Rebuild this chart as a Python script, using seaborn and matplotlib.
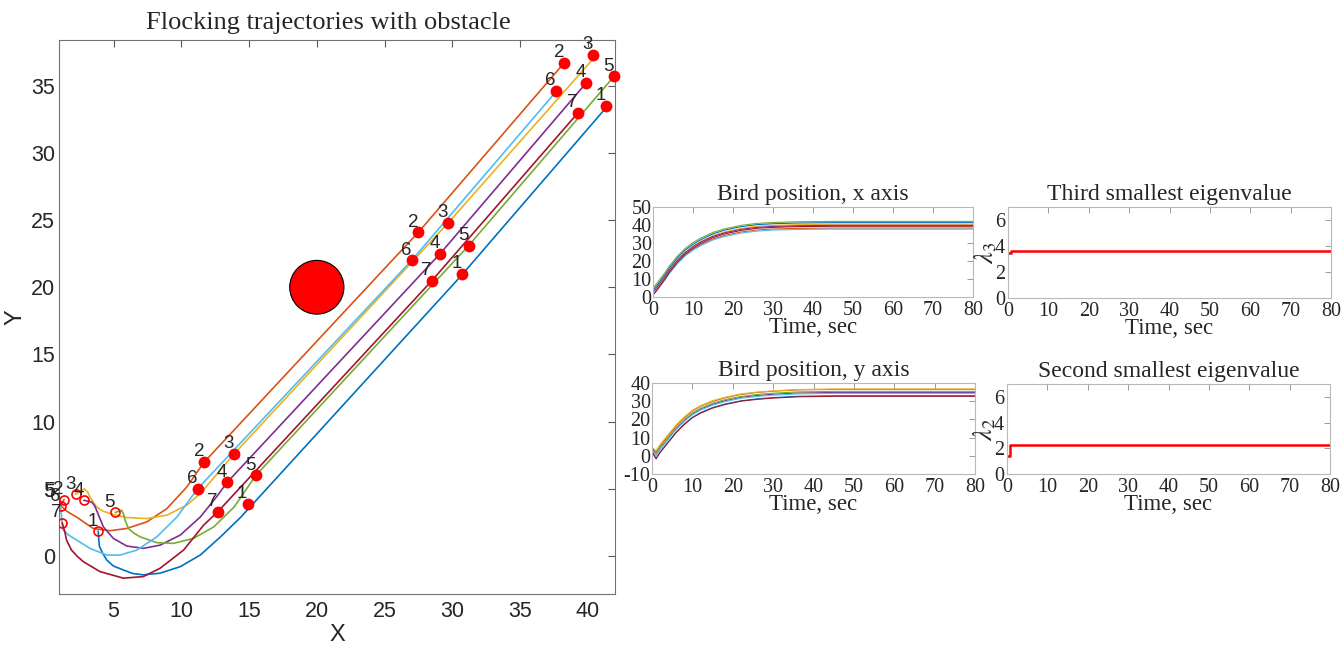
import numpy as np
import pandas as pd
import matplotlib
matplotlib.use('Agg')
import matplotlib.pyplot as plt
import seaborn as sns
from matplotlib.patches import Circle

# Bird names and colours (MATLAB default line order)
birds = ['1', '2', '3', '4', '5', '6', '7']
bird_colors = ['#0072BD', '#D95319', '#EDB120', '#7E2F8E', '#77AC30', '#4DBEEE', '#A2142F']

# Trajectories in the plane
path1_x = [3.87, 3.95, 4.2, 4.5, 5.0, 5.73, 6.4, 7.2, 8.44, 9.93, 11.4, 12.9, 14.4, 15.85, 30.6, 41.2]
path1_y = [1.85, 0.74, 0.2, -0.3, -0.75, -1.04, -1.3, -1.4, -1.28, -0.79, 0.07, 1.43, 2.9, 4.5, 20.8, 33.2]
path2_x = [1.35, 1.1, 1.6, 2.27, 3.5, 4.74, 5.98, 7.46, 8.94, 10.4, 11.7, 27.5, 38.25]
path2_y = [4.2, 3.75, 3.3, 2.9, 2.05, 1.88, 2.05, 2.54, 3.53, 5.13, 7.0, 24.1, 36.7]
path3_x = [2.2, 2.85, 3.1, 3.26, 3.75, 4.2, 4.74, 5.98, 7.46, 8.94, 10.4, 11.4, 13.9, 29.7, 40.3]
path3_y = [4.6, 5.0, 4.75, 4.39, 3.65, 3.35, 3.16, 2.86, 2.79, 3.04, 3.78, 4.64, 7.6, 24.8, 36.9]
path4_x = [2.81, 3.38, 3.6, 3.75, 4.25, 4.99, 5.98, 7.21, 8.44, 9.93, 11.4, 12.6, 13.4, 29.1, 39.7]
path4_y = [4.15, 4.02, 3.75, 3.4, 2.17, 1.31, 0.74, 0.57, 0.81, 1.56, 2.9, 4.4, 5.5, 22.5, 35.0]
path5_x = [5.13, 5.6, 5.75, 5.85, 6.1, 6.5, 6.96, 8.2, 9.43, 10.9, 12.4, 13.9, 15.5, 31.2, 41.85]
path5_y = [3.24, 3.4, 3.1, 2.67, 2.05, 1.7, 1.43, 0.99, 0.94, 1.31, 2.17, 3.65, 6.0, 23.1, 35.6]
path6_x = [1.09, 1.2, 1.28, 1.7, 2.27, 3.26, 4.5, 5.48, 6.72, 8.2, 9.68, 11.2, 27.0, 37.6]
path6_y = [3.7, 2.6, 1.93, 1.55, 1.19, 0.57, 0.07, 0.07, 0.44, 1.43, 2.9, 5.0, 22.0, 34.5]
path7_x = [1.21, 1.41, 1.53, 1.9, 2.3, 2.77, 4.0, 5.73, 7.2, 8.44, 10.17, 11.65, 12.7, 28.5, 39.2]
path7_y = [2.47, 1.8, 1.19, 0.44, 0.0, -0.42, -1.16, -1.65, -1.53, -0.91, 0.44, 2.3, 3.3, 20.5, 32.9]

# Start positions (open circles); the last "5" sits just outside the axes
start_x = [3.87, 1.35, 2.2, 2.81, 5.13, 1.09, 1.21, 0.65]
start_y = [1.85, 4.2, 4.6, 4.15, 3.24, 3.7, 2.47, 3.95]
start_labels = ['1', '2', '3', '4', '5', '6', '7', '5']

# Snapshots of the flock (filled dots)
snapA_x = [14.9, 11.7, 13.9, 13.4, 15.5, 11.2, 12.7]
snapA_y = [3.9, 7.0, 7.6, 5.5, 6.0, 5.0, 3.3]
snapB_x = [30.7, 27.5, 29.7, 29.1, 31.2, 27.0, 28.5]
snapB_y = [21.0, 24.1, 24.8, 22.5, 23.1, 22.0, 20.5]
snapC_x = [41.35, 38.25, 40.35, 39.85, 41.95, 37.65, 39.25]
snapC_y = [33.5, 36.7, 37.3, 35.2, 35.7, 34.6, 33.0]

# Obstacle
obstacle_center = (20, 20)
obstacle_radius = 2

# Position versus time
t_grid = [0, 1, 2, 3, 4, 6, 8, 10, 12, 15, 18, 22, 26, 30, 36, 45, 60, 80]
xpos_1 = [3.9, 6.5, 9.5, 12.5, 15.9, 21.5, 26.0, 29.3, 31.9, 35.1, 37.2, 39.1, 40.2, 40.7, 41.1, 41.3, 41.3, 41.3]
xpos_2 = [1.4, 3.9, 6.9, 9.9, 13.2, 18.7, 23.2, 26.5, 29.1, 32.2, 34.2, 36.1, 37.2, 37.8, 38.1, 38.3, 38.3, 38.3]
xpos_3 = [2.2, 4.9, 7.9, 11.0, 14.4, 20.2, 24.7, 28.2, 30.9, 34.1, 36.2, 38.1, 39.3, 39.8, 40.2, 40.4, 40.4, 40.4]
xpos_4 = [2.8, 5.4, 8.4, 11.3, 14.7, 20.2, 24.6, 28.0, 30.6, 33.7, 35.7, 37.6, 38.7, 39.2, 39.6, 39.8, 39.8, 39.8]
xpos_5 = [5.1, 7.7, 10.7, 13.6, 16.9, 22.5, 26.9, 30.2, 32.8, 35.9, 37.9, 39.8, 40.9, 41.4, 41.8, 42.0, 42.0, 42.0]
xpos_6 = [1.1, 3.7, 6.6, 9.5, 12.8, 18.3, 22.7, 26.0, 28.6, 31.7, 33.7, 35.5, 36.6, 37.2, 37.5, 37.7, 37.7, 37.7]
xpos_7 = [1.2, 3.9, 6.9, 10.0, 13.4, 19.1, 23.7, 27.1, 29.8, 33.0, 35.1, 37.0, 38.2, 38.7, 39.1, 39.3, 39.3, 39.3]
ypos_1 = [1.9, -1.4, 2.0, 4.8, 7.5, 13.0, 17.5, 21.1, 23.7, 26.5, 28.4, 30.2, 31.3, 32.0, 32.7, 33.0, 33.0, 33.0]
ypos_2 = [4.2, 1.9, 5.3, 8.1, 10.9, 16.4, 20.9, 24.6, 27.2, 29.9, 31.8, 33.7, 34.8, 35.5, 36.2, 36.5, 36.5, 36.5]
ypos_3 = [4.6, 2.8, 6.2, 8.9, 11.6, 17.0, 21.4, 25.0, 27.5, 30.3, 32.1, 34.0, 35.0, 35.7, 36.4, 36.7, 36.7, 36.7]
ypos_4 = [4.2, 0.6, 4.0, 6.7, 9.5, 15.0, 19.4, 23.0, 25.6, 28.3, 30.2, 32.1, 33.1, 33.8, 34.5, 34.8, 34.8, 34.8]
ypos_5 = [3.2, 0.9, 4.4, 7.1, 9.9, 15.4, 19.9, 23.5, 26.1, 28.9, 30.8, 32.6, 33.7, 34.4, 35.1, 35.4, 35.4, 35.4]
ypos_6 = [3.7, 0.1, 3.5, 6.2, 9.0, 14.5, 18.9, 22.5, 25.1, 27.8, 29.7, 31.6, 32.6, 33.3, 34.0, 34.3, 34.3, 34.3]
ypos_7 = [2.5, -1.7, 1.8, 4.5, 7.3, 12.8, 17.2, 20.9, 23.4, 26.2, 28.1, 30.0, 31.0, 31.7, 32.4, 32.7, 32.7, 32.7]

# Eigenvalues (step at the start)
t_eig = [0, 0.8, 80]
lambda3 = [3.44, 3.62, 3.62]
lambda2 = [1.38, 2.22, 2.22]

# Build long tables for seaborn
path_x = [path1_x, path2_x, path3_x, path4_x, path5_x, path6_x, path7_x]
path_y = [path1_y, path2_y, path3_y, path4_y, path5_y, path6_y, path7_y]
rows = []
for b in range(7):
    for xv, yv in zip(path_x[b], path_y[b]):
        rows.append((birds[b], xv, yv))
paths = pd.DataFrame(rows, columns=['bird', 'x', 'y'])

xpos = [xpos_1, xpos_2, xpos_3, xpos_4, xpos_5, xpos_6, xpos_7]
ypos = [ypos_1, ypos_2, ypos_3, ypos_4, ypos_5, ypos_6, ypos_7]
rows = []
for b in range(7):
    for tv, xv, yv in zip(t_grid, xpos[b], ypos[b]):
        rows.append((birds[b], tv, xv, yv))
ts = pd.DataFrame(rows, columns=['bird', 't', 'x', 'y'])

# Style
sns.set_theme(style='white')
plt.rcParams['font.family'] = ['Liberation Serif', 'DejaVu Serif']
plt.rcParams['mathtext.fontset'] = 'stix'
plt.rcParams['axes.unicode_minus'] = False

W, H = 1343, 647
fig = plt.figure(figsize=(W / 100, H / 100), dpi=100)


def rect(left, top, right, bottom):
    return [left / W, 1 - bottom / H, (right - left) / W, (bottom - top) / H]


# Main trajectory plot
ax = fig.add_axes(rect(59.3, 40, 615, 594.3))
sns.lineplot(data=paths, x='x', y='y', hue='bird', palette=bird_colors,
             estimator=None, sort=False, legend=False, lw=1.2, ax=ax)
ax.add_patch(Circle(obstacle_center, obstacle_radius, fc='red', ec='black', lw=0.8, zorder=4))
ax.plot(start_x, start_y, 'o', ms=6.5, mfc='none', mec='red', mew=1.2, zorder=5)
for sx, sy in [(snapA_x, snapA_y), (snapB_x, snapB_y), (snapC_x, snapC_y)]:
    ax.plot(sx, sy, 'o', ms=7.5, color='red', mec='red', zorder=6, clip_on=False)
    for i in range(7):
        ax.text(sx[i] - 0.4, sy[i] + 0.75, birds[i], fontsize=13.5,
                family='Liberation Sans', ha='center', va='center', zorder=7)
for i in range(len(start_x)):
    ax.text(start_x[i] - 0.4, start_y[i] + 0.75, start_labels[i], fontsize=13.5,
            family='Liberation Sans', ha='center', va='center', zorder=7)

ax.set_xlim(1.0, 42.0)
ax.set_ylim(-2.85, 38.4)
ax.set_xticks(range(5, 41, 5))
ax.set_yticks(range(0, 36, 5))
ax.tick_params(direction='in', top=True, right=True, length=5, width=0.8,
               color='0.35', labelsize=15.5, labelfontfamily='Liberation Sans')
ax.tick_params(axis='x', pad=5)
ax.tick_params(axis='y', pad=3)
for s in ax.spines.values():
    s.set_color('0.45')
    s.set_linewidth(0.8)
ax.set_xlabel('X', fontsize=17, family='Liberation Sans', va='center')
ax.set_ylabel('Y', fontsize=17, family='Liberation Sans', va='center')
ax.xaxis.set_label_coords(0.5, -0.074)
ax.yaxis.set_label_coords(-0.078, 0.5)
ax.set_title('Flocking trajectories with obstacle', fontsize=19, pad=8, x=0.484)


def small_axes(r, title):
    a = fig.add_axes(r)
    a.tick_params(direction='in', top=True, right=True, length=4, width=0.6,
                  color='0.55', labelsize=14.5)
    a.tick_params(axis='x', pad=3)
    a.tick_params(axis='y', pad=1)
    for s in a.spines.values():
        s.set_color('0.72')
        s.set_linewidth(0.8)
    a.set_title(title, fontsize=17, pad=5)
    a.set_xlim(0, 80)
    a.set_xticks(range(0, 81, 10))
    a.set_xlabel('Time, sec', fontsize=16.5, va='center')
    a.xaxis.set_label_coords(0.5, -0.335)
    return a


ax1 = small_axes(rect(653, 207, 973, 297), 'Bird position, x axis')
sns.lineplot(data=ts, x='t', y='x', hue='bird', palette=bird_colors,
             estimator=None, legend=False, lw=0.8, ax=ax1)
ax1.set_ylim(0, 50)
ax1.set_yticks(range(0, 51, 10))
ax1.set_xlabel('Time, sec')
ax1.set_ylabel('')

ax2 = small_axes(rect(652, 383, 975, 474), 'Bird position, y axis')
sns.lineplot(data=ts, x='t', y='y', hue='bird', palette=bird_colors,
             estimator=None, legend=False, lw=0.8, ax=ax2)
ax2.set_ylim(-10, 40)
ax2.set_yticks(range(-10, 41, 10))
ax2.set_xlabel('Time, sec')
ax2.set_ylabel('')

ax3 = small_axes(rect(1008, 207, 1331, 298), 'Third smallest eigenvalue')
sns.lineplot(x=t_eig, y=lambda3, color='red', lw=1.8, drawstyle='steps-post', ax=ax3)
ax3.set_ylim(0, 7)
ax3.set_yticks([0, 2, 4, 6])
ax3.tick_params(axis='y', pad=2)
ax3.set_xlabel('Time, sec')
ax3.set_ylabel(r'$\lambda_3$', fontsize=19, va='center')
ax3.yaxis.set_label_coords(-0.068, 0.5)

ax4 = small_axes(rect(1007, 384, 1330, 474), 'Second smallest eigenvalue')
sns.lineplot(x=t_eig, y=lambda2, color='red', lw=1.8, drawstyle='steps-post', ax=ax4)
ax4.set_ylim(0, 7)
ax4.set_yticks([0, 2, 4, 6])
ax4.tick_params(axis='y', pad=2)
ax4.set_xlabel('Time, sec')
ax4.set_ylabel(r'$\lambda_2$', fontsize=19, va='center')
ax4.yaxis.set_label_coords(-0.068, 0.5)

fig.savefig('out.png', dpi=100, facecolor='white')
